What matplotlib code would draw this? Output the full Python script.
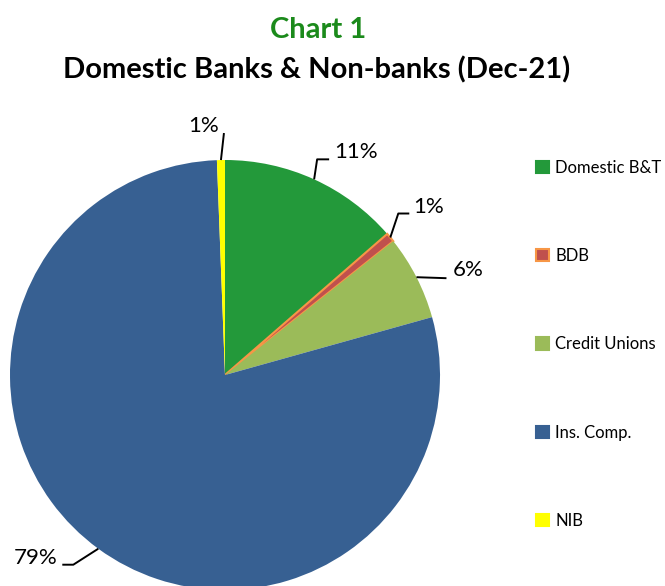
import matplotlib.pyplot as plt
import numpy as np
from matplotlib.patches import Patch

plt.rcParams['font.family'] = ['Lato', 'DejaVu Sans']

categories = ['Domestic B&T', 'BDB', 'Credit Unions', 'Ins. Comp.', 'NIB']
shares = [13.6, 0.7, 6.35, 78.7, 0.6]
label_text = ['11%', '1%', '6%', '79%', '1%']
colors = ['#23993a', '#c0504d', '#9bbb59', '#376092', '#ffff00']
edges = ['none', '#f79646', 'none', 'none', 'none']

W, H = 665, 586
fig = plt.figure(figsize=(W / 100, H / 100), dpi=100)

# pie centre and radius in pixels
cx, cy, R = 225, 375, 215
ax = fig.add_axes([(cx - R) / W, (H - cy - R) / H, 2 * R / W, 2 * R / H])

wedges, _ = ax.pie(shares, colors=colors, startangle=90, counterclock=False,
                   radius=1, center=(0, 0), frame=True)
for w, ec in zip(wedges, edges):
    if ec != 'none':
        w.set_edgecolor(ec)
        w.set_linewidth(1.5)
ax.set_xlim(-1, 1)
ax.set_ylim(-1, 1)
ax.set_aspect('equal')
ax.axis('off')

# leader line layout: elbow, end, text offsets (px from rim point, y down)
elbow_off = [(3, -20), (8, -24), (0, 0), (-25, 16), (3, -27)]
end_off = [(15, -20), (19, -24), (30, 1), (-36, 16), (3, -27)]
text_off = [(20, -27), (23, -31), (36, -7), (-41, 9), (-17, -34)]
text_ha = ['left', 'left', 'left', 'right', 'center']

def px(p):
    return (p[0] / R, -p[1] / R)

for w, lab, eo, no, to, ha in zip(wedges, label_text, elbow_off, end_off, text_off, text_ha):
    ang = np.deg2rad((w.theta1 + w.theta2) / 2)
    x0, y0 = np.cos(ang), np.sin(ang)
    e = px(eo)
    n = px(no)
    t = px(to)
    ax.plot([x0, x0 + e[0], x0 + n[0]], [y0, y0 + e[1], y0 + n[1]],
            color='black', lw=1.4, clip_on=False, solid_capstyle='butt')
    ax.text(x0 + t[0], y0 + t[1], lab, ha=ha, va='center', fontsize=16,
            color='black', clip_on=False)

fig.text(318 / W, 1 - 30 / H, 'Chart 1', ha='center', va='center',
         fontsize=21, fontweight='bold', color='#1b8a1b')
fig.text(317 / W, 1 - 70 / H, 'Domestic Banks & Non-banks (Dec-21)', ha='center',
         va='center', fontsize=21, fontweight='bold', color='black')

handles = [Patch(facecolor=c, edgecolor=(ec if ec != 'none' else c), linewidth=1.5)
           for c, ec in zip(colors, edges)]
fig.legend(handles, categories, loc='upper left',
           bbox_to_anchor=(536 / W, 1 - 160 / H), frameon=False,
           fontsize=12, handlelength=0.75, handleheight=0.75,
           handletextpad=0.4, labelspacing=4.33, borderpad=0, borderaxespad=0)

fig.savefig('out.png', dpi=100)
